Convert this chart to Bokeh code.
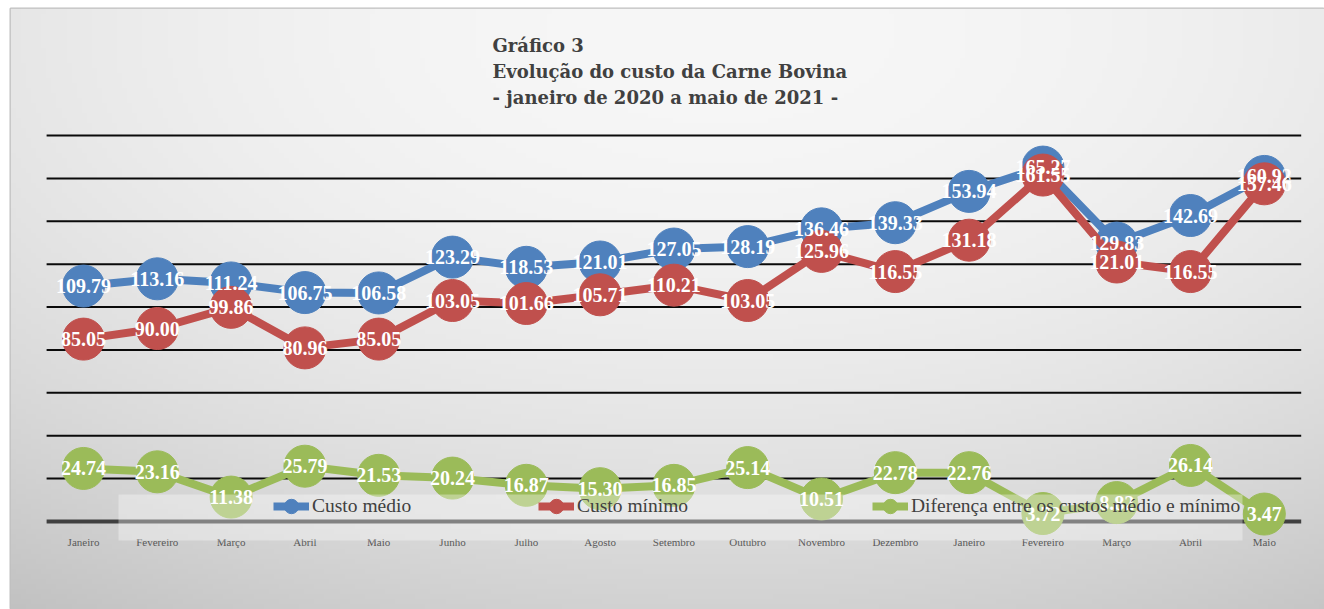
import numpy as np
from bokeh.plotting import figure
from bokeh.models import (Range1d, Legend, LegendItem, LabelSet, ColumnDataSource,
                          BoxAnnotation, Label)
from bokeh.embed import file_html
from bokeh.resources import INLINE
from bokeh.core.properties import value

# ---------------- data ----------------
meses = ["Janeiro", "Fevereiro", "Março", "Abril", "Maio", "Junho", "Julho", "Agosto",
         "Setembro", "Outubro", "Novembro", "Dezembro", "Janeiro", "Fevereiro", "Março",
         "Abril", "Maio"]
custo_medio = [109.79, 113.16, 111.24, 106.75, 106.58, 123.29, 118.53, 121.01, 127.05,
               128.19, 136.46, 139.33, 153.94, 165.27, 129.83, 142.69, 160.92]
custo_minimo = [85.05, 90.00, 99.86, 80.96, 85.05, 103.05, 101.66, 105.71, 110.21,
                103.05, 125.96, 116.55, 131.18, 161.55, 121.01, 116.55, 157.46]
diferenca = [24.74, 23.16, 11.38, 25.79, 21.53, 20.24, 16.87, 15.30, 16.85,
             25.14, 10.51, 22.78, 22.76, 3.72, 8.82, 26.14, 3.47]
series_names = ["Custo médio", "Custo mínimo", "Diferença entre os custos médio e mínimo"]
title_lines = ["Gráfico 3", "Evolução do custo da Carne Bovina",
               "- janeiro de 2020 a maio de 2021 -"]
grid_values = [20, 40, 60, 80, 100, 120, 140, 160, 180]
y_max = 180

# ---------------- layout (page pixels) ----------------
W, H = 1324, 609
L, T = 10, 8                          # frame left / top inside the figure
X0_PX, STEP_PX = 83.0, 73.8           # first category centre, category spacing
Y0_PX, Y_TOP_PX = 521.0, 135.0        # pixel row of value 0 and of y_max
PPU = (Y0_PX - Y_TOP_PX) / y_max

x_start = -(X0_PX - L) / STEP_PX
x_end = x_start + (W - L) / STEP_PX
y_end = (Y0_PX - T) / PPU
y_start = y_end - (H - T) / PPU


def fx(px):
    return x_start + (px - L) / STEP_PX


def fy(py):
    return y_end - (py - T) / PPU


p = figure(width=W, height=H, x_range=Range1d(x_start, x_end),
           y_range=Range1d(y_start, y_end), output_backend="svg",
           toolbar_location=None, min_border=0,
           min_border_left=L, min_border_top=T,
           x_axis_location=None, y_axis_location=None)
p.grid.visible = False
p.outline_line_color = "#bfbfbf"
p.outline_line_width = 2
p.background_fill_color = "#e0e0e0"
p.border_fill_color = "#ffffff"

# ---------------- gradient background ----------------
ny, nx = 120, 260
py = H - (np.arange(ny) + 0.5) * (H - T) / ny
px = L + (np.arange(nx) + 0.5) * (W - L) / nx
PX, PY = np.meshgrid(px, py)
shade = 247 - 37 * ((PY - 30) / 575) ** 2 - 16 * ((PX - 720) / 700) ** 2
shade = np.clip(shade, 190, 250).astype(np.uint32)
img = (255 << 24) | (shade << 16) | (shade << 8) | shade
p.image_rgba(image=[img.astype(np.uint32)], x=x_start, y=y_start,
             dw=x_end - x_start, dh=y_end - y_start)

# ---------------- grid lines & axis line ----------------
n = len(meses)
p.segment(x0=[-0.5] * len(grid_values), x1=[n - 0.5] * len(grid_values),
          y0=grid_values, y1=grid_values, line_color="#0a0a0a", line_width=2)
p.segment(x0=[-0.5], x1=[n - 0.5], y0=[0], y1=[0], line_color="#404040", line_width=4)

# category labels
p.text(x=list(range(n)), y=[0] * n, text=meses, y_offset=20,
       text_align="center", text_baseline="middle",
       text_font=value("Liberation Serif"), text_font_size="11px",
       text_color="#595959")

# ---------------- series ----------------
colors = ["#4F81BD", "#C0504D", "#9BBB59"]
all_vals = [custo_medio, custo_minimo, diferenca]
rends = []
sources = []
for vals, col in zip(all_vals, colors):
    src = ColumnDataSource(dict(x=list(range(n)), y=vals,
                                lbl=[f"{v:.2f}" for v in vals]))
    ln = p.line("x", "y", source=src, line_color=col, line_width=8)
    sc = p.scatter("x", "y", source=src, size=42, marker="circle",
                   fill_color=col, line_color=col)
    rends.append((ln, sc))
    sources.append(src)

# legend box
box = BoxAnnotation(left=fx(118), right=fx(1242), top=fy(494), bottom=fy(540),
                    fill_color="white", fill_alpha=0.35, line_alpha=0)
p.add_layout(box)

# legend entries: (icon left px, row bottom measured from figure bottom)
leg_x = [273 - L, 538 - L, 872 - L]
for (ln, sc), name, lx in zip(rends, series_names, leg_x):
    leg = Legend(items=[LegendItem(label=name, renderers=[ln, sc])],
                 location=(lx, H - 506 - 18), orientation="horizontal",
                 background_fill_alpha=0, border_line_alpha=0,
                 padding=0, margin=0, spacing=0,
                 glyph_width=36, glyph_height=36, label_standoff=3,
                 label_text_font="Liberation Serif", label_text_font_size="19.5px",
                 label_text_color="#404040")
    p.add_layout(leg)

# data labels
for src in sources:
    p.add_layout(LabelSet(x="x", y="y", text="lbl", source=src,
                          text_align="center", text_baseline="middle",
                          text_color="white", text_font=value("Liberation Serif"),
                          text_font_style="bold", text_font_size="20px"))

# ---------------- title ----------------
for i, t in enumerate(title_lines):
    p.add_layout(Label(x=fx(492), y=fy(45 + 26 * i), text=t,
                       text_baseline="alphabetic", text_align="left",
                       text_font="DejaVu Serif", text_font_style="bold",
                       text_font_size="18px", text_color="#404040"))

open("out.html", "w").write(file_html(p, INLINE))
